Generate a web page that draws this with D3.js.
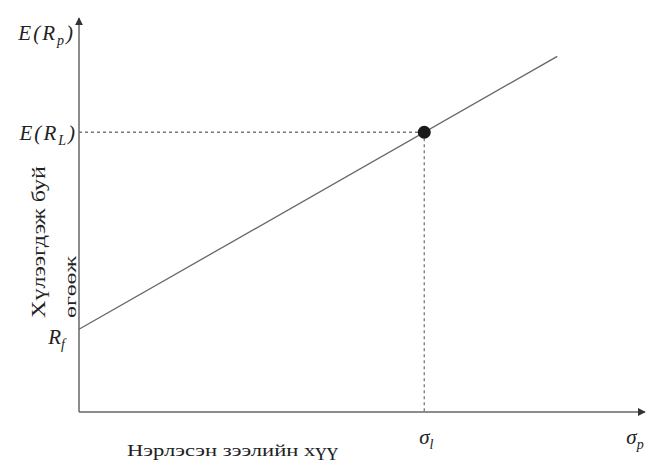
<!DOCTYPE html>
<html>
<head>
<meta charset="utf-8">
<script src="https://cdn.jsdelivr.net/npm/d3@7"></script>
<style>
  html, body { margin: 0; padding: 0; background: #fff; }
  svg text { font-family: "Liberation Serif", "DejaVu Serif", serif; fill: #222; }
</style>
</head>
<body>
<svg id="chart" width="659" height="468"></svg>
<script>
// Capital market line: risk-free rate, lending portfolio and line extent
const riskFree = 2.1;
const sigmaL = 6.1;
const returnL = 7.1;
const sigmaLineEnd = 8.45;
const xDomain = [0, 10];
const yDomain = [0, 10];

const svg = d3.select("#chart");
const x = d3.scaleLinear().domain(xDomain).range([79, 645]);
const y = d3.scaleLinear().domain(yDomain).range([412, 18]);

const slope = (returnL - riskFree) / sigmaL;
const linePts = [[0, riskFree], [sigmaLineEnd, riskFree + slope * sigmaLineEnd]];

const defs = svg.append("defs");
defs.append("marker")
  .attr("id", "arrow")
  .attr("viewBox", "0 0 10 10")
  .attr("refX", 9).attr("refY", 5)
  .attr("markerWidth", 8).attr("markerHeight", 8)
  .attr("markerUnits", "userSpaceOnUse")
  .attr("orient", "auto")
  .append("path").attr("d", "M0,0 L10,5 L0,10 Z").attr("fill", "#333");

// Axes
svg.append("line")
  .attr("x1", x(0)).attr("y1", y(0)).attr("x2", x(xDomain[1])).attr("y2", y(0))
  .attr("stroke", "#666").attr("stroke-width", 1.5).attr("marker-end", "url(#arrow)");
svg.append("line")
  .attr("x1", x(0)).attr("y1", y(0)).attr("x2", x(0)).attr("y2", y(yDomain[1]))
  .attr("stroke", "#666").attr("stroke-width", 1.5).attr("marker-end", "url(#arrow)");

// Guide lines to the portfolio point
svg.append("line")
  .attr("x1", x(0)).attr("y1", y(returnL)).attr("x2", x(sigmaL)).attr("y2", y(returnL))
  .attr("stroke", "#777").attr("stroke-width", 1.3).attr("stroke-dasharray", "3,3");
svg.append("line")
  .attr("x1", x(sigmaL)).attr("y1", y(returnL)).attr("x2", x(sigmaL)).attr("y2", y(0))
  .attr("stroke", "#777").attr("stroke-width", 1.3).attr("stroke-dasharray", "3,3");

// Market line
svg.append("path")
  .datum(linePts)
  .attr("d", d3.line().x(d => x(d[0])).y(d => y(d[1])))
  .attr("fill", "none").attr("stroke", "#666").attr("stroke-width", 1.3);

svg.append("circle")
  .attr("cx", x(sigmaL)).attr("cy", y(returnL)).attr("r", 6.5).attr("fill", "#1a1a1a");

// Math labels
function mathLabel(px, py, base, sub, anchor, wrap) {
  const t = svg.append("text").attr("x", px).attr("y", py)
    .attr("text-anchor", anchor).attr("font-size", 21).attr("font-style", "italic")
    .attr("letter-spacing", wrap ? 2 : 0);
  if (wrap) {
    t.append("tspan").text(base + "(");
    t.append("tspan").text("R");
    t.append("tspan").attr("font-size", 14).attr("dy", 5).text(sub);
    t.append("tspan").attr("dy", -5).text(")");
  } else {
    t.append("tspan").text(base);
    t.append("tspan").attr("font-size", 14).attr("dy", 5).text(sub);
  }
  return t;
}
mathLabel(75, 40, "E", "p", "end", true);
mathLabel(77, 140, "E", "L", "end", true);
mathLabel(65, 344, "R", "f", "end", false);
mathLabel(x(sigmaL) + 2, 444, "σ", "l", "middle", false);
mathLabel(x(xDomain[1]) - 10, 444, "σ", "p", "middle", false);

// Axis titles
svg.append("text")
  .attr("transform", "translate(45,318) rotate(-90)")
  .attr("text-anchor", "start").attr("font-size", 19)
  .attr("textLength", 152).attr("lengthAdjust", "spacingAndGlyphs")
  .text("Хүлээгдэж буй");
svg.append("text")
  .attr("transform", "translate(76,318) rotate(-90)")
  .attr("text-anchor", "start").attr("font-size", 17)
  .attr("textLength", 62).attr("lengthAdjust", "spacingAndGlyphs")
  .text("өгөөж");

svg.append("text")
  .attr("x", 127).attr("y", 456)
  .attr("text-anchor", "start").attr("font-size", 17)
  .attr("textLength", 211).attr("lengthAdjust", "spacingAndGlyphs")
  .text("Нэрлэсэн зээлийн хүү");
</script>
</body>
</html>
